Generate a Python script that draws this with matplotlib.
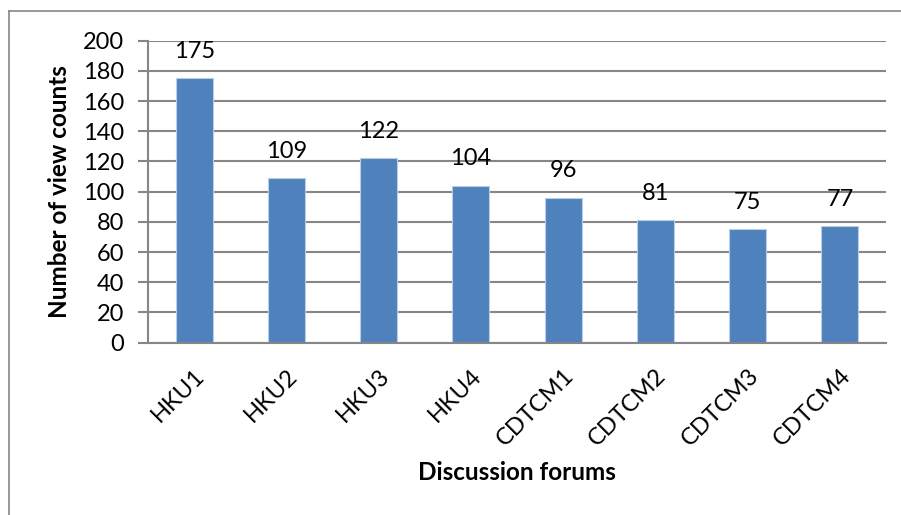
import matplotlib
matplotlib.use("Agg")
import matplotlib.pyplot as plt
from matplotlib.lines import Line2D
import numpy as np

forums = ["HKU1", "HKU2", "HKU3", "HKU4", "CDTCM1", "CDTCM2", "CDTCM3", "CDTCM4"]
view_counts = [175, 109, 122, 104, 96, 81, 75, 77]
y_ticks = list(range(0, 201, 20))

plt.rcParams['font.family'] = ['Lato', 'DejaVu Sans']

W, H = 901, 515
fig = plt.figure(figsize=(W / 100, H / 100), dpi=100)
ax = fig.add_axes([148 / W, 1 - 342.7 / H, (886 - 148) / W, (342.7 - 40.7) / H])

grey = "#868686"
fs = 17
x = np.arange(len(forums))
bars = ax.bar(x, view_counts, width=0.4, color="#4F81BD", edgecolor="#B9CDE5",
              linewidth=0.8, zorder=3)

for xi, v in zip(x, view_counts):
    ax.annotate(str(v), (xi, v), xytext=(0, 19.5), textcoords="offset points",
                ha="center", va="center", fontsize=fs)

ax.set_xlim(-0.5, len(forums) - 0.5)
ax.set_ylim(0, 200)
ax.set_yticks(y_ticks)
ax.set_xticks(x)
ax.set_xticklabels(forums, rotation=45, ha="right", va="top",
                   rotation_mode="anchor", fontsize=fs)
ax.tick_params(axis="x", length=0, pad=16)
ax.tick_params(axis="y", direction="out", length=7, width=1.5, color=grey,
               labelsize=fs, pad=10)

ax.yaxis.grid(True, color=grey, linewidth=1.5, zorder=0)
ax.set_axisbelow(True)
for side in ["top", "right"]:
    ax.spines[side].set_visible(False)
ax.spines["left"].set_color(grey)
ax.spines["left"].set_linewidth(1.5)
ax.spines["bottom"].set_color(grey)
ax.spines["bottom"].set_linewidth(1.5)
ax.spines["bottom"].set_zorder(4)

ax.set_ylabel("Number of view counts", fontsize=17.5, fontweight="bold", labelpad=9)
fig.text(517 / W, 1 - 473 / H, "Discussion forums", fontsize=17.5,
         fontweight="bold", ha="center", va="center")

# outer chart border (only top and left visible in the crop)
fig.add_artist(Line2D([9 / W, 9 / W], [0, 1 - 11 / H], color=grey, linewidth=1.2,
                      transform=fig.transFigure))
fig.add_artist(Line2D([9 / W, 1], [1 - 11 / H, 1 - 11 / H], color=grey, linewidth=1.2,
                      transform=fig.transFigure))

fig.savefig("out.png", dpi=100)
